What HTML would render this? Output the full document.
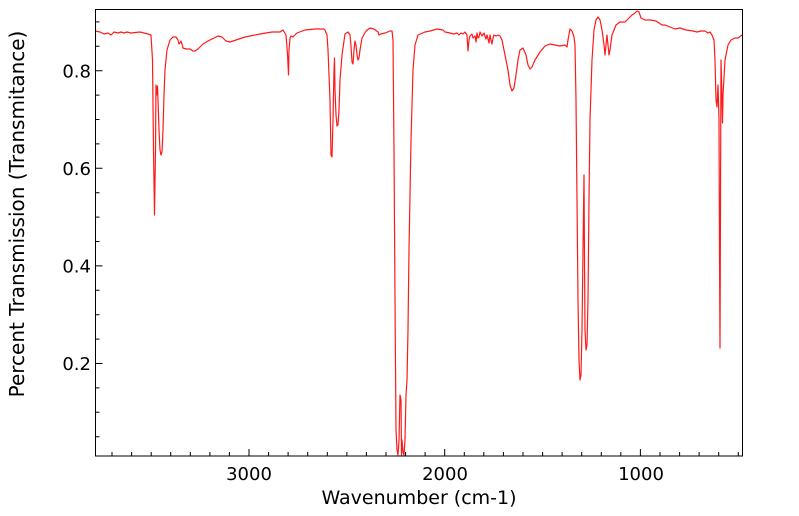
<!DOCTYPE html>
<html><head><meta charset="utf-8"><style>
body{margin:0;background:#fff;}
svg{display:block;font-family:"DejaVu Sans","Liberation Sans",sans-serif;}
</style></head><body>
<svg width="799" height="516" viewBox="0 0 799 516" xmlns="http://www.w3.org/2000/svg">
<rect x="0" y="0" width="799" height="516" fill="#fff"/>
<polyline fill="none" stroke="#ff1a1a" stroke-width="1.2" stroke-linejoin="round" points="95,31 100,32 104,34 108,33 111,35 114,32 118,33 121,32 124,33 127,32 131,33 140,32 148,34 151,35 152.5,60 153.5,150 154.5,215 155.5,150 156,85 157,95 157.5,86 158,100 159,130 160,150 161,155 162,152 163,130 164,95 165,70 167,50 170,40 173,37 176,37 178,40 179,44 180,43 181,41 182,44 183,48 186,49 190,49 193,51 195,51 198,49 203,44 210,40 218,36 222,37 226,41 230,42 236,40 245,37 260,34 272,32 280,32 283,30 286,35 287.5,54 288.5,75 289,50 290,38 291,36 293,37 297,33 305,30 315,29 324,29 325,30 327,35 328,50 330,100 331,155 332,157 333,120 334,70 334.5,58 335,90 336,115 337,126 338,125 339,110 340,80 342,55 345,34 348,32 350,35 351,46 352,62 353,64 354,50 355,41 356,45 357,55 358,60 359,58 360,50 362,38 366,31 370,28 374,29 378,32 379,35 381,34 385,33 390,31 392,31 393,40 394,150 395,300 396,430 397,450 398,455 399,440 400,395 401,400 401.5,455 402,440 403,452 404,455 405,440 406,395 407,380 408,330 409,250 411,140 413,70 415,45 418,35 425,32 430,31 437,29 443,30 445,32 450,33 454,34 457,33 459,35 461,33 463,34 465,32 467,35 468,51 469,40 470,36 472,34 473,38 475,36 476,42 477,33 478,38 479,37 480,32 482,36 484,33 486,39 487,35 488,39 489,43 490,35 491,40 492,44 493,38 494,35 496,36 498,35 500,36 502,40 505,55 508,70 510,85 512,91 514,88 516,75 518,60 520,50 523,48 526,55 528,65 530,69 532,67 535,60 540,52 545,46 550,44 555,45 560,46 565,45 567,47 568,40 570,29 572,31 574,37 575,45 576,100 577,200 578,300 579,360 580,380 581,375 582,330 583,250 584,175 584.5,260 585,330 586,350 587,345 588,300 589,200 590,120 592,60 594,30 596,20 598,17 600,20 602,30 604,45 605,55 606,45 607,35 608,45 609,55 610,50 612,35 616,25 620,22 625,22 628,19 632,15 635,13 637,11 639,12 641,18 645,20 650,20 656,21 662,25 665,25 670,27 675,29 680,28 686,30 693,31 697,32 701,31 705,31 708,33 710,32 712,35 714,40 715,60 716,100 717,107 718,85 719,120 719.5,250 720,348 720.5,200 721,60 722,100 722.5,123 723,95 725,60 728,45 731,40 735,38 738,38 742,35"/>
<path stroke="#000" stroke-width="1" fill="none" d="M112,456v-4M131.6,456v-4M151.2,456v-4M170.7,456v-4M190.3,456v-4M209.9,456v-4M229.4,456v-4M249,456v-7M268.6,456v-4M288.1,456v-4M307.7,456v-4M327.3,456v-4M346.9,456v-4M366.4,456v-4M386,456v-4M405.6,456v-4M425.1,456v-4M444.7,456v-7M464.3,456v-4M483.8,456v-4M503.4,456v-4M523,456v-4M542.6,456v-4M562.1,456v-4M581.7,456v-4M601.3,456v-4M620.8,456v-4M640.4,456v-7M660,456v-4M679.6,456v-4M699.1,456v-4M718.7,456v-4M738.3,456v-4
M95.5,436.7h4M95.5,412.3h4M95.5,387.9h4M95.5,363.5h7M95.5,339.1h4M95.5,314.7h4M95.5,290.3h4M95.5,265.9h7M95.5,241.5h4M95.5,217.1h4M95.5,192.7h4M95.5,168.3h7M95.5,143.9h4M95.5,119.5h4M95.5,95.1h4M95.5,70.7h7M95.5,46.3h4M95.5,21.9h4"/>
<rect x="95.5" y="9.5" width="647" height="446.5" fill="none" stroke="#000" stroke-width="1"/>
<g font-size="18" fill="#000">
<text x="91" y="77.5" text-anchor="end">0.8</text>
<text x="91" y="175" text-anchor="end">0.6</text>
<text x="91" y="272.5" text-anchor="end">0.4</text>
<text x="91" y="370" text-anchor="end">0.2</text>
<text x="249" y="480" text-anchor="middle">3000</text>
<text x="445" y="480" text-anchor="middle">2000</text>
<text x="641" y="480" text-anchor="middle">1000</text>
</g>
<text x="419" y="504" text-anchor="middle" font-size="19">Wavenumber (cm-1)</text>
<text transform="translate(24,214) rotate(-90)" text-anchor="middle" font-size="20">Percent Transmission (Transmitance)</text>
</svg>
</body></html>
